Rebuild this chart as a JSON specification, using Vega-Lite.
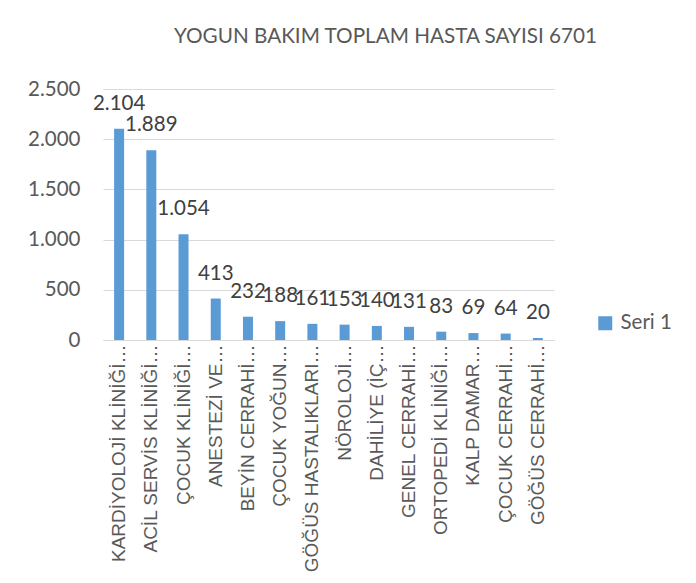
{
  "$schema": "https://vega.github.io/schema/vega-lite/v6.json",
  "autosize": {"type": "none"},
  "width": 451,
  "height": 251,
  "padding": {"left": 103, "top": 89, "right": 142, "bottom": 243},
  "background": "white",
  "config": {
    "locale": {"number": {"decimal": ",", "thousands": ".", "grouping": [3], "currency": ["", " TL"]}},
    "view": {"stroke": null},
    "font": "Lato"
  },
  "title": {
    "text": "YOGUN BAKIM TOPLAM HASTA SAYISI 6701",
    "font": "Lato",
    "fontSize": 20.7,
    "fontWeight": "normal",
    "color": "#595959",
    "anchor": "middle",
    "dx": 57,
    "offset": 31
  },
  "data": {
    "values": [
      {"klinik": "KARDİYOLOJİ KLİNİĞİ…", "hasta": 2104, "seri": "Seri 1"},
      {"klinik": "ACİL SERVİS KLİNİĞİ…", "hasta": 1889, "seri": "Seri 1"},
      {"klinik": "ÇOCUK KLİNİĞİ…", "hasta": 1054, "seri": "Seri 1"},
      {"klinik": "ANESTEZİ VE…", "hasta": 413, "seri": "Seri 1"},
      {"klinik": "BEYİN CERRAHİ…", "hasta": 232, "seri": "Seri 1"},
      {"klinik": "ÇOCUK YOĞUN…", "hasta": 188, "seri": "Seri 1"},
      {"klinik": "GÖĞÜS HASTALIKLARI…", "hasta": 161, "seri": "Seri 1"},
      {"klinik": "NÖROLOJİ…", "hasta": 153, "seri": "Seri 1"},
      {"klinik": "DAHİLİYE (İÇ…", "hasta": 140, "seri": "Seri 1"},
      {"klinik": "GENEL CERRAHİ…", "hasta": 131, "seri": "Seri 1"},
      {"klinik": "ORTOPEDİ KLİNİĞİ…", "hasta": 83, "seri": "Seri 1"},
      {"klinik": "KALP DAMAR…", "hasta": 69, "seri": "Seri 1"},
      {"klinik": "ÇOCUK CERRAHİ…", "hasta": 64, "seri": "Seri 1"},
      {"klinik": "GÖĞÜS CERRAHİ…", "hasta": 20, "seri": "Seri 1"}
    ]
  },
  "encoding": {
    "x": {
      "field": "klinik",
      "type": "nominal",
      "sort": null,
      "scale": {"paddingInner": 0, "paddingOuter": 0},
      "axis": {
        "title": null,
        "labelAngle": -90,
        "labelFont": "Liberation Sans",
        "labelFontSize": 19,
        "labelColor": "#595959",
        "labelPadding": 4,
        "labelLimit": 400,
        "ticks": false,
        "tickSize": 0,
        "domainColor": "#d9d9d9",
        "domainWidth": 1,
        "grid": false
      }
    },
    "y": {
      "field": "hasta",
      "type": "quantitative",
      "scale": {"domain": [0, 2500]},
      "axis": {
        "title": null,
        "values": [0, 500, 1000, 1500, 2000, 2500],
        "format": ",d",
        "labelFont": "Lato",
        "labelFontSize": 20.5,
        "labelColor": "#595959",
        "labelPadding": 23,
        "ticks": false,
        "tickSize": 0,
        "domain": false,
        "grid": true,
        "gridColor": "#d9d9d9",
        "gridWidth": 1
      }
    }
  },
  "layer": [
    {
      "mark": {"type": "bar", "size": 10},
      "encoding": {
        "color": {
          "field": "seri",
          "type": "nominal",
          "scale": {"range": ["#5b9bd5"]},
          "legend": {
            "title": null,
            "orient": "none",
            "legendX": 492,
            "legendY": 224,
            "symbolType": "square",
            "symbolSize": 196,
            "symbolStrokeWidth": 0,
            "labelFont": "Lato",
            "labelFontSize": 20.5,
            "labelColor": "#595959",
            "labelOffset": 5,
            "padding": 0
          }
        }
      }
    },
    {
      "mark": {"type": "text", "baseline": "bottom", "dy": -15, "font": "Lato", "fontSize": 20.5, "color": "#404040"},
      "encoding": {
        "text": {"field": "hasta", "type": "quantitative", "format": ",d"}
      }
    }
  ]
}
